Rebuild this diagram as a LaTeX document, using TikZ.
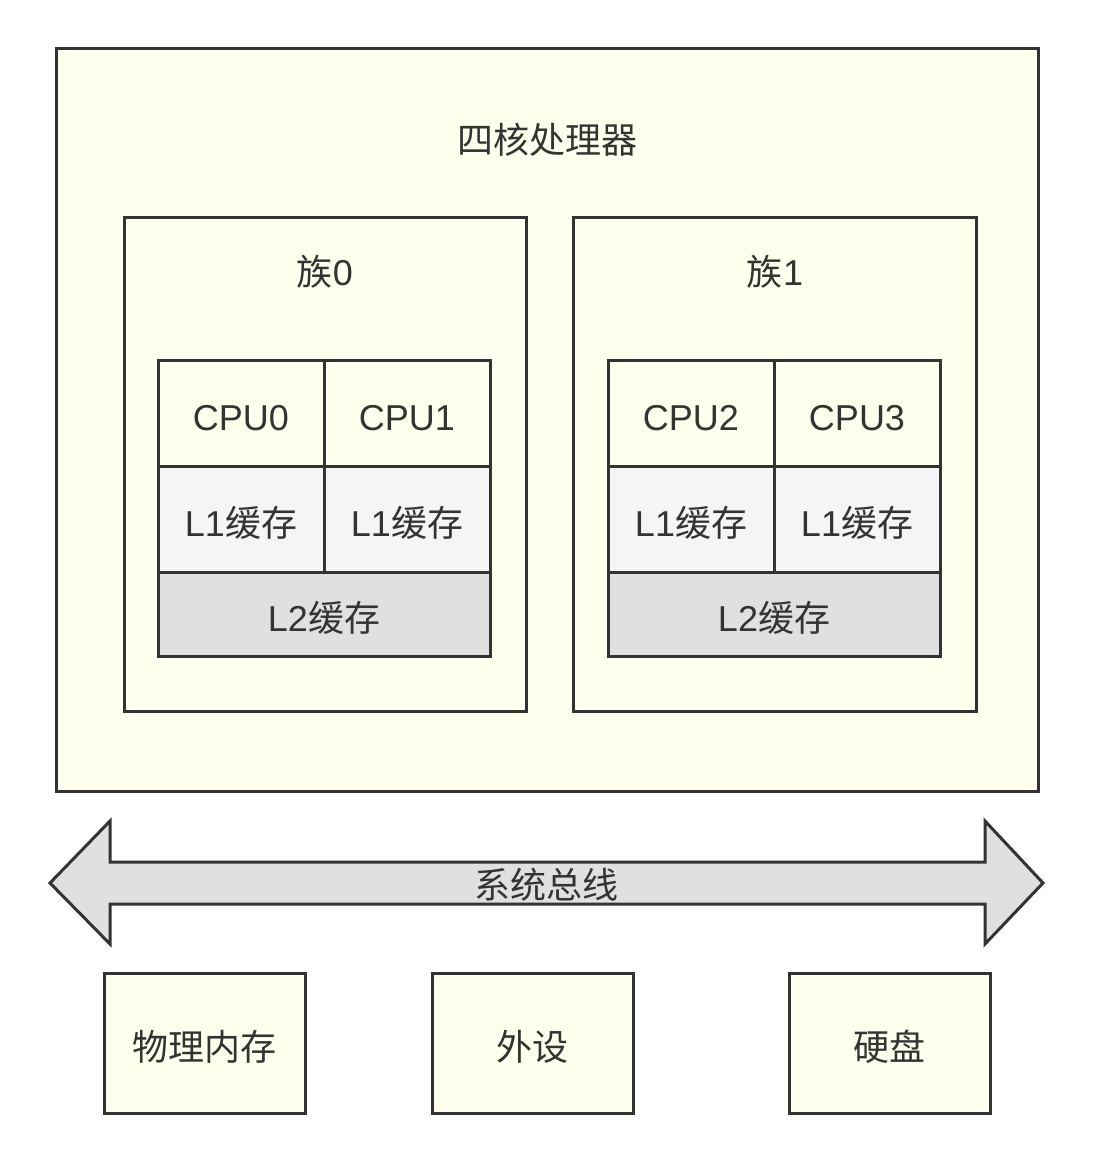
\documentclass[tikz,border=0pt]{standalone}
\usepackage{fontspec}
\setmainfont{Liberation Sans}
\newfontfamily\cjk{Noto Sans CJK SC}
\definecolor{lineGray}{HTML}{333333}
\definecolor{boxYellow}{HTML}{FFFFEE}
\definecolor{cacheOne}{HTML}{F5F5F5}
\definecolor{cacheTwo}{HTML}{E0E0E0}
\begin{document}
\begin{tikzpicture}
[x=1pt, y=-1pt,
box/.style={draw=lineGray, line width=3pt, fill=boxYellow, inner sep=0pt,
            text height=38pt, text depth=4pt},
cpucell/.style={box, minimum width=166pt, minimum height=106pt},
l1cell/.style={box, fill=cacheOne, minimum width=166pt, minimum height=106pt},
l2cell/.style={box, fill=cacheTwo, minimum width=332pt, minimum height=84pt},
label/.style={text=lineGray, font=\fontsize{36}{43}\selectfont}
]
\useasboundingbox (0,0) rectangle (1094,1164);
\tikzset{every node/.style={label}}
%\tikzset{every node/.style={shape=rectangle,
%                            font=\cjk,
%                            minimum size=1cm
%                           }}
\node[box, minimum width=982pt, minimum height=742pt] (chip) at (547,420) {};
\node (chiplabel) at (547,140) {\cjk 四核处理器};
% two clusters
\node[box, minimum width=402pt, minimum height=494pt] (cluster0) at (325,464) {};
\node[box, minimum width=403pt, minimum height=494pt] (cluster1) at (774.5,464) {};
\node (cluster0label) at (325,272) {{\cjk 族}0};
\node (cluster1label) at (775,272) {{\cjk 族}1};
% cores and caches
\node[cpucell] (cpu0) at (241,413) {CPU0};
\node[cpucell] (cpu1) at (407,413) {CPU1};
\node[cpucell] (cpu2) at (691,413) {CPU2};
\node[cpucell] (cpu3) at (857,413) {CPU3};
\node[l1cell] (l1a) at (241,519) {L1{\cjk 缓存}};
\node[l1cell] (l1b) at (407,519) {L1{\cjk 缓存}};
\node[l1cell] (l1c) at (691,519) {L1{\cjk 缓存}};
\node[l1cell] (l1d) at (857,519) {L1{\cjk 缓存}};
\node[l2cell] (l2a) at (324,614) {L2{\cjk 缓存}};
\node[l2cell] (l2b) at (774,614) {L2{\cjk 缓存}};
% system bus
\coordinate (busL) at (50,883);
\coordinate (busR) at (1043,883);
\draw[draw=lineGray, line width=3pt, fill=cacheTwo, line join=miter]
    (busL) -- (110,821) -- (110,862) -- (985,862) -- (985,821) -- (busR)
    -- (985,944) -- (985,904) -- (110,904) -- (110,944) -- cycle;
\node (buslabel) at (546,885) {\cjk 系统总线};
% devices
\node[box, minimum width=201pt, minimum height=140pt] (memory) at (204.5,1043) {\cjk 物理内存};
\node[box, minimum width=201pt, minimum height=140pt] (periph) at (532.5,1043) {\cjk 外设};
\node[box, minimum width=201pt, minimum height=140pt] (disk) at (889.5,1043) {\cjk 硬盘};
\end{tikzpicture}
\end{document}
